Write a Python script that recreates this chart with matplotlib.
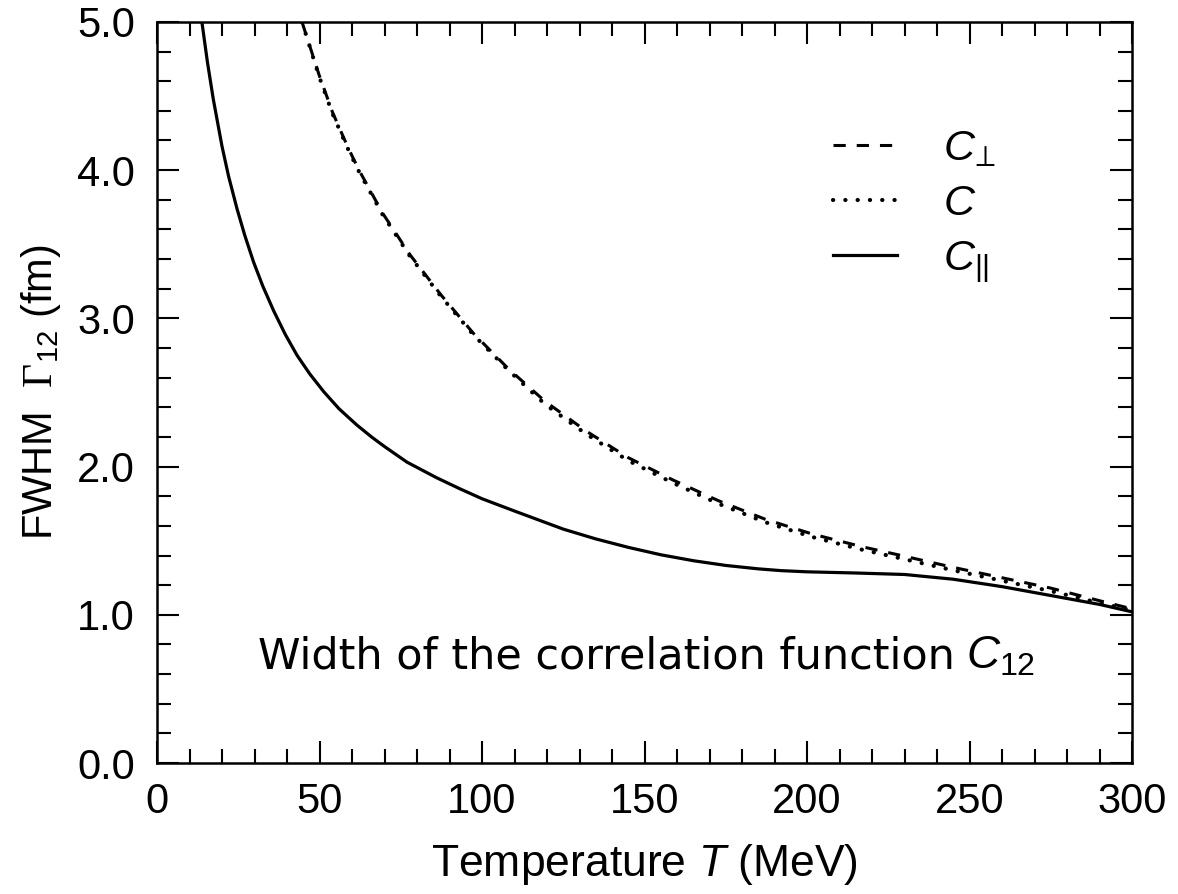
import matplotlib
matplotlib.use("Agg")
import matplotlib.pyplot as plt
from matplotlib.ticker import MultipleLocator, FormatStrFormatter

# ============================================================
#   DATA
# ============================================================
# C_parallel (solid)
T_par = [13.8, 15.5, 17.3, 20, 22, 24.6, 27, 29.7, 32.5, 35.9, 39.5, 43.1, 47,
         51.3, 56, 61.5, 66, 70, 76.9, 86, 93, 100, 110, 125, 135, 145, 155,
         165, 175, 185, 192, 200, 215, 230, 245, 260, 275, 290, 300]
w_par = [5.0, 4.73, 4.48, 4.16, 3.96, 3.74, 3.56, 3.38, 3.22, 3.05, 2.89, 2.75,
         2.625, 2.505, 2.39, 2.28, 2.20, 2.135, 2.03, 1.925, 1.852, 1.783, 1.70,
         1.578, 1.512, 1.455, 1.405, 1.365, 1.333, 1.31, 1.298, 1.29, 1.282,
         1.272, 1.24, 1.19, 1.13, 1.07, 1.02]

# C (dotted) and C_perp (dashed) share the temperature grid
T_c = [44.6, 49.9, 54, 58.6, 61.9, 69.4, 77.8, 87.3, 97.3, 108.1, 119.4, 132,
       145, 158.7, 172.7, 187.1, 201.6, 216.8, 230, 245, 260, 275, 290, 300]
w_c = [5.0, 4.63, 4.38, 4.15, 4.00, 3.70, 3.42, 3.15, 2.89, 2.65, 2.42, 2.22,
       2.04, 1.89, 1.75, 1.625, 1.525, 1.44, 1.375, 1.30, 1.23, 1.16, 1.08, 1.03]
w_perp = [5.0, 4.64, 4.39, 4.16, 4.01, 3.71, 3.43, 3.16, 2.90, 2.66, 2.44, 2.24,
          2.06, 1.91, 1.77, 1.645, 1.545, 1.46, 1.395, 1.32, 1.25, 1.18, 1.095,
          1.04]

labels = [r"$\mathit{C}_{\!\perp}$", r"$\mathit{C}$", r"$\mathit{C}_{\mathsf{||}}$"]

# ============================================================
#   STYLE
# ============================================================
plt.rcParams["font.family"] = ["Liberation Sans", "DejaVu Sans"]
plt.rcParams["mathtext.fontset"] = "custom"
plt.rcParams["mathtext.rm"] = "Liberation Serif"
plt.rcParams["mathtext.it"] = "Liberation Sans:italic"
plt.rcParams["mathtext.sf"] = "Liberation Sans"
plt.rcParams["font.size"] = 30


def main():
    fig = plt.figure(figsize=(11.78, 8.94), dpi=100)
    ax = fig.add_axes([0.1333, 0.1465, 0.8277, 0.829])

    ax.plot(T_c, w_perp, color="black", lw=2.2, linestyle=(0, (4.0, 3.6)),
            label=labels[0])
    ax.plot(T_c, w_c, color="black", lw=3.0, linestyle=(0, (0.05, 2.9)),
            dash_capstyle="round", label=labels[1])
    ax.plot(T_par, w_par, color="black", lw=2.3, label=labels[2])

    ax.set_xlim(0, 300)
    ax.set_ylim(0, 5)
    ax.xaxis.set_major_locator(MultipleLocator(50))
    ax.xaxis.set_minor_locator(MultipleLocator(10))
    ax.yaxis.set_major_locator(MultipleLocator(1.0))
    ax.yaxis.set_minor_locator(MultipleLocator(0.2))
    ax.yaxis.set_major_formatter(FormatStrFormatter("%.1f"))

    ax.tick_params(which="both", direction="in", top=True, right=True,
                   width=1.5, labelsize=30)
    ax.tick_params(which="major", length=16)
    ax.tick_params(which="minor", length=10)
    ax.tick_params(axis="y", pad=16)
    ax.tick_params(axis="x", pad=14)
    for s in ax.spines.values():
        s.set_linewidth(1.8)

    ax.set_xlabel(r"Temperature $\mathit{T}$ (MeV)", fontsize=32, labelpad=14)
    ax.set_ylabel(r"FWHM  $\Gamma_{\mathsf{12}}$ (fm)", fontsize=30, labelpad=10)

    ax.text(31, 0.64, "Width of the correlation function ", fontsize=31,
            family="DejaVu Sans", ha="left", va="baseline")
    ax.text(249, 0.64, r"$\mathit{C}_{\mathsf{12}}$", fontsize=33,
            ha="left", va="baseline")

    ax.legend(loc="upper left", bbox_to_anchor=(0.693, 0.856), frameon=False,
              fontsize=31, handlelength=1.5, handletextpad=1.05,
              borderpad=0, borderaxespad=0, labelspacing=0.35)

    fig.savefig("out.png", dpi=100)


if __name__ == "__main__":
    main()
